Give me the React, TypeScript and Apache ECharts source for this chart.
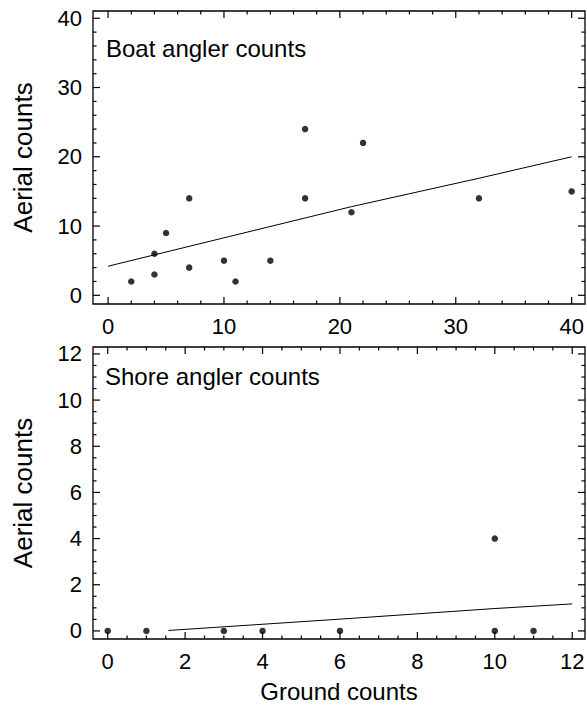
import React, { useEffect, useRef } from "react";
import * as echarts from "echarts";

// Boat angler counts (top panel)
const boatGround = [2, 4, 4, 5, 7, 7, 10, 11, 14, 17, 17, 21, 22, 32, 40];
const boatAerial = [2, 3, 6, 9, 14, 4, 5, 2, 5, 24, 14, 12, 22, 14, 15];
const boatFitX = [0, 10, 21, 32, 40];
const boatFitY = [4.2, 8.3, 12.8, 16.9, 20.0];

// Shore angler counts (bottom panel)
const shoreGround = [0, 1, 3, 4, 6, 10, 10, 11];
const shoreAerial = [0, 0, 0, 0, 0, 4, 0, 0];
const shoreFitX = [1.57, 6, 10, 12];
const shoreFitY = [0.02, 0.51, 0.97, 1.17];

// Axis extents
const boatXRange = [-1.3, 41.15];
const boatYRange = [-1.256, 41.05];
const shoreXRange = [-0.38, 12.33];
const shoreYRange = [-0.35, 12.3];

// Tick positions (drawn on all four sides, pointing inward)
const boatMajor = [0, 10, 20, 30, 40];
const boatMinor = [2, 4, 6, 8, 12, 14, 16, 18, 22, 24, 26, 28, 32, 34, 36, 38];
const shoreMajor = [0, 2, 4, 6, 8, 10, 12];
const shoreMinor = [0.5, 1, 1.5, 2.5, 3, 3.5, 4.5, 5, 5.5, 6.5, 7, 7.5, 8.5, 9, 9.5, 10.5, 11, 11.5];

const FONT = "Liberation Sans, Arial, sans-serif";
const TICK_FONT = 22;
const X_TITLE_FONT = 24;
const Y_TITLE_FONT = 26;
const MAJOR_LEN = 7;
const MINOR_LEN = 3.5;

function labelAxis(
  dim: "x" | "y",
  grid: number,
  range: number[],
  splitNumber: number,
  name?: string
) {
  return {
    type: "value",
    gridIndex: grid,
    position: dim === "x" ? "bottom" : "left",
    min: range[0],
    max: range[1],
    splitNumber,
    axisLine: { show: false, onZero: false },
    axisTick: { show: false },
    splitLine: { show: false },
    axisLabel: {
      show: true,
      showMinLabel: false,
      showMaxLabel: false,
      color: "#000",
      fontSize: TICK_FONT,
      fontFamily: FONT,
      margin: 11,
    },
    name,
    nameLocation: "middle",
    nameGap: dim === "x" ? 40 : 57,
    nameTextStyle: {
      color: "#000",
      fontSize: dim === "x" ? X_TITLE_FONT : Y_TITLE_FONT,
      fontFamily: FONT,
    },
  };
}

// Custom series that draws inward tick marks on both opposite edges,
// positioned through the axes' own scales (api.coord).
function tickSeries(
  dim: "x" | "y",
  axisIndex: number,
  values: number[],
  xRange: number[],
  yRange: number[],
  len: number
) {
  const tickStyle = { stroke: "#000", lineWidth: 1.2 };
  return {
    type: "custom",
    xAxisIndex: axisIndex,
    yAxisIndex: axisIndex,
    silent: true,
    clip: false,
    z: 5,
    data: values.map((v) => (dim === "x" ? [v, 0] : [0, v])),
    renderItem: (_params: any, api: any) => {
      if (dim === "x") {
        const v = api.value(0);
        const a = api.coord([v, yRange[0]]);
        const b = api.coord([v, yRange[1]]);
        return {
          type: "group",
          children: [
            { type: "line", shape: { x1: a[0], y1: a[1], x2: a[0], y2: a[1] - len }, style: tickStyle },
            { type: "line", shape: { x1: b[0], y1: b[1], x2: b[0], y2: b[1] + len }, style: tickStyle },
          ],
        };
      }
      const v = api.value(1);
      const a = api.coord([xRange[0], v]);
      const b = api.coord([xRange[1], v]);
      return {
        type: "group",
        children: [
          { type: "line", shape: { x1: a[0], y1: a[1], x2: a[0] + len, y2: a[1] }, style: tickStyle },
          { type: "line", shape: { x1: b[0], y1: b[1], x2: b[0] - len, y2: b[1] }, style: tickStyle },
        ],
      };
    },
  };
}

export default function App() {
  const ref = useRef<HTMLDivElement>(null);
  useEffect(() => {
    if (!ref.current) return;
    const chart = echarts.init(ref.current, undefined, { renderer: "svg" });
    const gridBase = {
      show: true,
      borderColor: "#000",
      borderWidth: 1.3,
      backgroundColor: "transparent",
      outerBoundsMode: "none",
      containLabel: false,
    };
    chart.setOption({
      animation: false,
      backgroundColor: "#fff",
      grid: [
        { left: 93, top: 11, width: 492, height: 293, ...gridBase },
        { left: 93, top: 347, width: 492, height: 292, ...gridBase },
      ],
      xAxis: [
        labelAxis("x", 0, boatXRange, 5),
        labelAxis("x", 1, shoreXRange, 6, "Ground counts"),
      ],
      yAxis: [
        labelAxis("y", 0, boatYRange, 5, "Aerial counts"),
        labelAxis("y", 1, shoreYRange, 6, "Aerial counts"),
      ],
      graphic: [
        {
          type: "text",
          left: 106,
          top: 36,
          style: { text: "Boat angler counts", fontSize: 24, fontFamily: FONT, fill: "#000" },
        },
        {
          type: "text",
          left: 105,
          top: 364,
          style: { text: "Shore angler counts", fontSize: 24, fontFamily: FONT, fill: "#000" },
        },
      ],
      series: [
        tickSeries("x", 0, boatMajor, boatXRange, boatYRange, MAJOR_LEN),
        tickSeries("x", 0, boatMinor, boatXRange, boatYRange, MINOR_LEN),
        tickSeries("y", 0, boatMajor, boatXRange, boatYRange, MAJOR_LEN),
        tickSeries("y", 0, boatMinor, boatXRange, boatYRange, MINOR_LEN),
        tickSeries("x", 1, shoreMajor, shoreXRange, shoreYRange, MAJOR_LEN),
        tickSeries("x", 1, shoreMinor, shoreXRange, shoreYRange, MINOR_LEN),
        tickSeries("y", 1, shoreMajor, shoreXRange, shoreYRange, MAJOR_LEN),
        tickSeries("y", 1, shoreMinor, shoreXRange, shoreYRange, MINOR_LEN),
        {
          type: "scatter",
          xAxisIndex: 0,
          yAxisIndex: 0,
          symbolSize: 6.5,
          itemStyle: { color: "#000" },
          data: boatGround.map((g, i) => [g, boatAerial[i]]),
        },
        {
          type: "line",
          xAxisIndex: 0,
          yAxisIndex: 0,
          showSymbol: false,
          lineStyle: { color: "#000", width: 1 },
          data: boatFitX.map((x, i) => [x, boatFitY[i]]),
        },
        {
          type: "scatter",
          xAxisIndex: 1,
          yAxisIndex: 1,
          symbolSize: 6.5,
          itemStyle: { color: "#000" },
          data: shoreGround.map((g, i) => [g, shoreAerial[i]]),
        },
        {
          type: "line",
          xAxisIndex: 1,
          yAxisIndex: 1,
          showSymbol: false,
          lineStyle: { color: "#000", width: 1 },
          data: shoreFitX.map((x, i) => [x, shoreFitY[i]]),
        },
      ],
    });
    return () => chart.dispose();
  }, []);
  return (
    <div
      ref={ref}
      style={{ position: "absolute", left: 0, top: 0, width: 587, height: 710 }}
    />
  );
}
